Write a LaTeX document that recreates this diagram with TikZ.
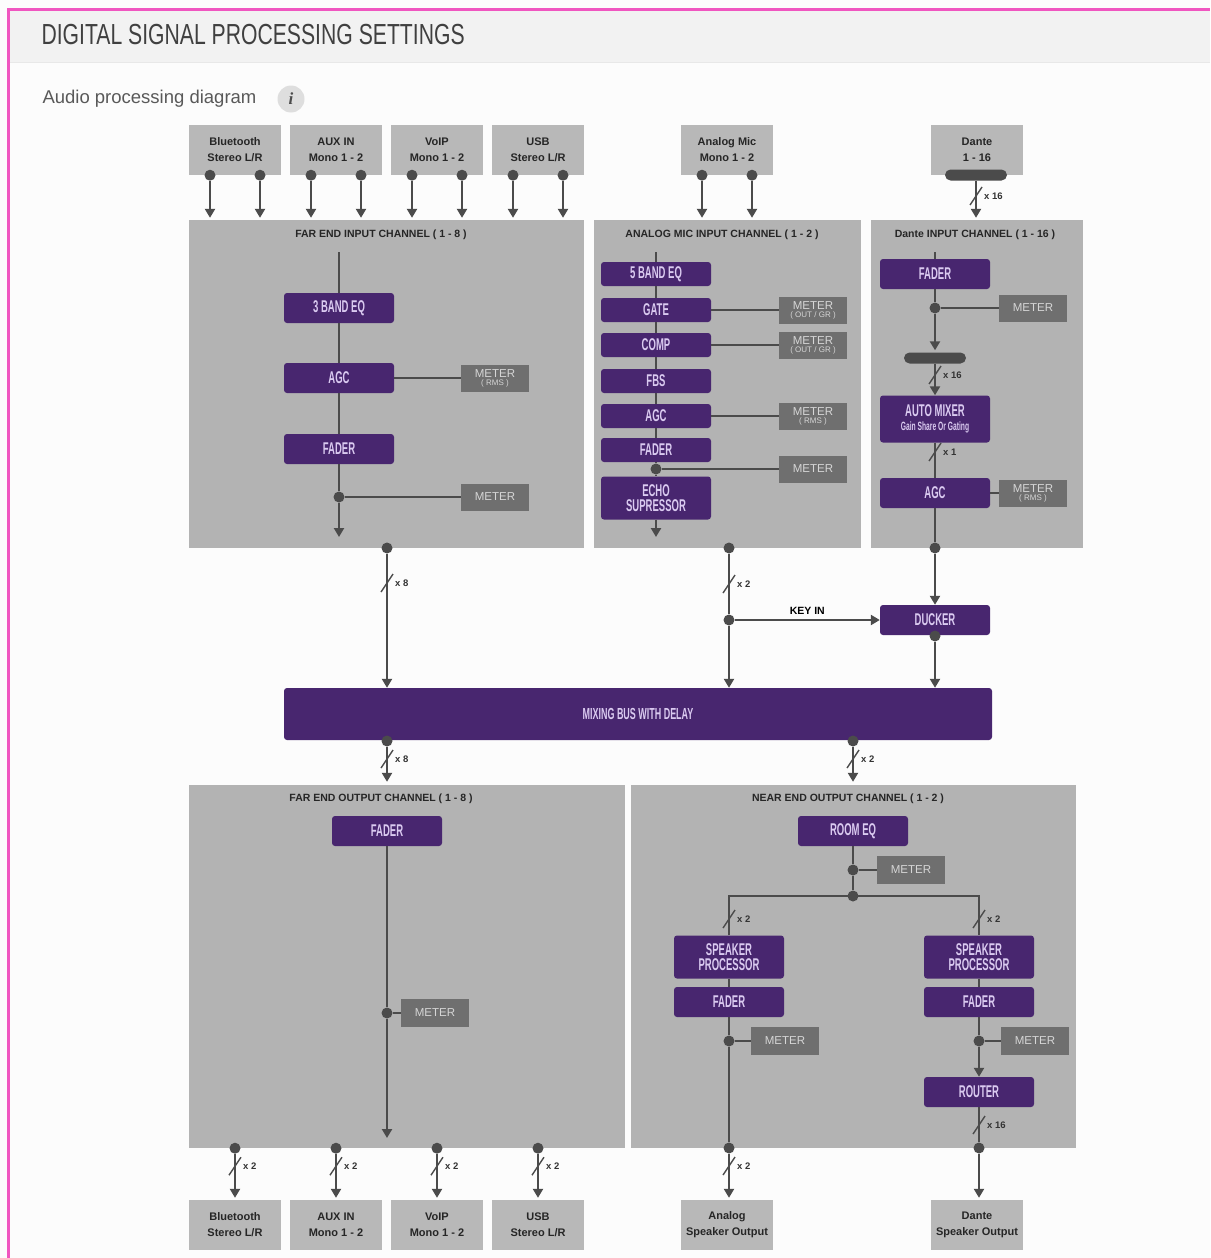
\documentclass[tikz,border=0pt]{standalone}
\usepackage{fontspec}
\setmainfont{Liberation Sans}
\newfontfamily\condsf[FakeStretch=0.56]{Liberation Sans}
\newfontfamily\thinsf[FakeStretch=0.73]{Liberation Sans}
\newfontfamily\infosf{Liberation Serif}
\usetikzlibrary{arrows.meta}
\definecolor{dsppurple}{HTML}{48266F}
\definecolor{dsptext}{HTML}{DACAF0}
\definecolor{panelgray}{HTML}{B3B3B3}
\definecolor{srcgray}{HTML}{B8B8B8}
\definecolor{metergray}{HTML}{6F6F6F}
\definecolor{metertext}{HTML}{D6D6D6}
\definecolor{wiregray}{HTML}{4B4B4B}
\definecolor{pagepink}{HTML}{F056C0}
\begin{document}
\begin{tikzpicture}[x=1pt, y=-1pt,
  >={Triangle[width=10pt,length=9pt]},
  wire/.style={draw=wiregray, line width=2.6pt},
  dot/.style={circle, fill=wiregray, inner sep=0pt, minimum size=11pt},
  src/.style={fill=srcgray, minimum width=92pt, minimum height=50pt, inner sep=0pt, align=center,
              font=\bfseries\fontsize{11}{16}\selectfont, text=black!85},
  chan/.style={fill=panelgray, inner sep=0pt},
  ttl/.style={font=\bfseries\fontsize{10.5}{12}\selectfont, text=black!85},
  proc/.style={fill=dsppurple, rounded corners=3pt, minimum width=110pt, minimum height=30pt, inner sep=0pt,
               align=center, text=dsptext, font=\condsf\bfseries\fontsize{17}{14.5}\selectfont},
  meter/.style={fill=metergray, minimum width=68pt, minimum height=27pt, inner sep=0pt, align=center,
                text=metertext, font=\fontsize{11.5}{10}\selectfont},
  bar/.style={fill=wiregray, rounded corners=5.5pt, minimum width=62pt, minimum height=11pt, inner sep=0pt},
  tick/.style={draw=wiregray, line width=1.4pt},
  busn/.style={font=\bfseries\fontsize{9.5}{11}\selectfont, text=black!80, anchor=west, inner sep=1pt},
  mux/.pic={\draw[tick] (-6,9) -- (6,-9); \node[busn] at (7,0) {\tikzpictext};},
]
  \useasboundingbox (0,0) rectangle (1210,1258);
  % page
  \fill[black!1] (0,0) rectangle (1210,1258);
  \fill[black!5] (9,11) rectangle (1210,62);
  \draw[black!9, line width=1pt] (9,62.5) -- (1210,62.5);
  \draw[pagepink, line width=3pt] (8.5,1258) -- (8.5,9.5) -- (1210,9.5);
  \node[anchor=west, text=black!75, font=\thinsf\fontsize{29}{30}\selectfont] (title) at (38,35) {DIGITAL SIGNAL PROCESSING SETTINGS};
  \node[anchor=west, text=black!65, font=\fontsize{18.5}{20}\selectfont] (sub) at (39,99) {Audio processing diagram};
  \node[circle, fill=black!13, minimum size=27pt, inner sep=0pt, text=black!70,
        font=\infosf\bfseries\itshape\fontsize{17}{17}\selectfont] (info) at (291,99) {i};

  % channel panels
  \node[chan, minimum width=395pt, minimum height=328pt] (fein) at (386.5,384) {};
  \node[chan, minimum width=267pt, minimum height=328pt] (amin) at (727.5,384) {};
  \node[chan, minimum width=212pt, minimum height=328pt] (dnin) at (977,384) {};
  \node[chan, minimum width=436pt, minimum height=363pt] (feout) at (407,966.5) {};
  \node[chan, minimum width=445pt, minimum height=363pt] (neout) at (853.5,966.5) {};
  \node[ttl] at (381,235) {FAR END INPUT CHANNEL ( 1 - 8 )};
  \node[ttl] at (722,235) {ANALOG MIC INPUT CHANNEL ( 1 - 2 )};
  \node[ttl] at (975,235) {Dante INPUT CHANNEL ( 1 - 16 )};
  \node[ttl] at (381,799) {FAR END OUTPUT CHANNEL ( 1 - 8 )};
  \node[ttl] at (848,799) {NEAR END OUTPUT CHANNEL ( 1 - 2 )};

  % inputs
  \node[src] (bt)    at (235,150) {Bluetooth\\Stereo L/R};
  \node[src] (aux)   at (336,150) {AUX IN\\Mono 1 - 2};
  \node[src] (voip)  at (437,150) {VoIP\\Mono 1 - 2};
  \node[src] (usb)   at (538,150) {USB\\Stereo L/R};
  \node[src] (mic)   at (727,150) {Analog Mic\\Mono 1 - 2};
  \node[src] (dante) at (977,150) {Dante\\1 - 16};
  \foreach \s in {bt,aux,voip,usb,mic}{
    \foreach \o/\k in {-25/l,25/r}{
      \node[dot] (\s\k) at ([xshift=\o pt]\s.south) {};
      \draw[wire,->,shorten >=2pt] (\s\k) -- (\s\k |- fein.north);
    }
  }
  \node[bar] (dbar) at (976,175) {};
  \draw[wire,->,shorten >=2pt] (dbar) -- (dbar |- dnin.north);
  \pic[pic text={x 16}] at (976,196) {mux};

  % far end input
  \coordinate (fetop) at (339,252);
  \node[proc] (eq3)   at (339,308) {3 BAND EQ};
  \node[proc] (feagc) at (339,378) {AGC};
  \node[proc] (fefad) at (339,449) {FADER};
  \node[dot]  (fedot) at (339,497) {};
  \coordinate (feend) at (339,537);
  \node[meter] (femet1) at (495,378) {METER\\[-2pt]\fontsize{8}{9}\selectfont ( RMS )};
  \node[meter] (femet2) at (495,497) {METER};
  \draw[wire] (fetop) -- (eq3) -- (feagc) -- (fefad) -- (fedot);
  \draw[wire,->] (fedot) -- (feend);
  \draw[wire] (feagc) -- (femet1);
  \draw[wire] (fedot) -- (femet2);

  % analog mic input
  \coordinate (amtop) at (656,252);
  \node[proc, minimum height=24pt] (eq5)   at (656,274) {5 BAND EQ};
  \node[proc, minimum height=24pt] (gate)  at (656,310) {GATE};
  \node[proc, minimum height=24pt] (comp)  at (656,345) {COMP};
  \node[proc, minimum height=24pt] (fbs)   at (656,381) {FBS};
  \node[proc, minimum height=24pt] (amagc) at (656,416) {AGC};
  \node[proc, minimum height=24pt] (amfad) at (656,450) {FADER};
  \node[dot] (amdot) at (656,469) {};
  \node[proc, minimum height=43pt] (echo) at (656,498) {ECHO\\SUPRESSOR};
  \coordinate (amend) at (656,537);
  \node[meter] (gmet) at (813,310) {METER\\[-2pt]\fontsize{8}{9}\selectfont ( OUT / GR )};
  \node[meter] (cmet) at (813,345) {METER\\[-2pt]\fontsize{8}{9}\selectfont ( OUT / GR )};
  \node[meter] (amet) at (813,416) {METER\\[-2pt]\fontsize{8}{9}\selectfont ( RMS )};
  \node[meter] (fmet) at (813,469) {METER};
  \draw[wire] (amtop) -- (eq5) -- (gate) -- (comp) -- (fbs) -- (amagc) -- (amfad) -- (amdot) -- (echo);
  \draw[wire,->] (echo) -- (amend);
  \draw[wire] (gate) -- (gmet);
  \draw[wire] (comp) -- (cmet);
  \draw[wire] (amagc) -- (amet);
  \draw[wire] (amdot) -- (fmet);

  % dante input
  \coordinate (dntop) at (935,252);
  \node[proc] (dnfad) at (935,274) {FADER};
  \node[dot]  (dndot) at (935,308) {};
  \node[meter] (dnmet1) at (1033,308) {METER};
  \node[bar]  (mbar)  at (935,358) {};
  \node[proc, minimum height=47pt] (amix) at (935,419) {AUTO MIXER\\{\fontsize{12}{15}\selectfont Gain Share Or Gating}};
  \node[proc] (dnagc) at (935,493) {AGC};
  \node[meter] (dnmet2) at (1033,493) {METER\\[-2pt]\fontsize{8}{9}\selectfont ( RMS )};
  \node[dot]  (dnout) at (935,548) {};
  \draw[wire] (dntop) -- (dnfad) -- (dndot);
  \draw[wire,->,shorten >=2pt] (dndot) -- (mbar);
  \draw[wire,->] (mbar) -- (amix);
  \draw[wire] (amix) -- (dnagc) -- (dnout);
  \draw[wire] (dndot) -- (dnmet1);
  \draw[wire] (dnagc) -- (dnmet2);
  \pic[pic text={x 16}] at (935,375) {mux};
  \pic[pic text={x 1}] at (935,452) {mux};

  % mixing bus
  \node[dot] (feo) at (387,548) {};
  \node[dot] (amo) at (729,548) {};
  \node[proc, minimum width=708pt, minimum height=52pt, font=\condsf\bfseries\fontsize{16}{16}\selectfont] (bus) at (638,714) {MIXING BUS WITH DELAY};
  \node[proc] (ducker) at (935,620) {DUCKER};
  \node[dot] (kdot) at (729,620) {};
  \node[dot] (dkdot) at (935,636) {};
  \draw[wire,->] (feo) -- (feo |- bus.north);
  \draw[wire] (amo) -- (kdot);
  \draw[wire,->] (kdot) -- (kdot |- bus.north);
  \draw[wire,->] (kdot) -- (ducker) node[midway, above=1pt, font=\bfseries\fontsize{10.5}{12}\selectfont] {KEY IN};
  \draw[wire,->] (dnout) -- (ducker);
  \draw[wire,->] (dkdot) -- (dkdot |- bus.north);
  \pic[pic text={x 8}] at (387,583) {mux};
  \pic[pic text={x 2}] at (729,584) {mux};
  \node[dot] (busl) at (387,741) {};
  \node[dot] (busr) at (853,741) {};
  \draw[wire,->,shorten >=3pt] (busl) -- (busl |- feout.north);
  \draw[wire,->,shorten >=3pt] (busr) -- (busr |- neout.north);
  \pic[pic text={x 8}] at (387,759) {mux};
  \pic[pic text={x 2}] at (853,759) {mux};

  % far end output
  \node[proc] (fofad) at (387,831) {FADER};
  \node[dot]  (fodot) at (387,1013) {};
  \node[meter, minimum height=28pt] (fomet) at (435,1013) {METER};
  \coordinate (foend) at (387,1138);
  \draw[wire] (fofad) -- (fodot);
  \draw[wire,->] (fodot) -- (foend);
  \draw[wire] (fodot) -- (fomet);
  \node[src] (btout)   at (235,1225) {Bluetooth\\Stereo L/R};
  \node[src] (auxout)  at (336,1225) {AUX IN\\Mono 1 - 2};
  \node[src] (voipout) at (437,1225) {VoIP\\Mono 1 - 2};
  \node[src] (usbout)  at (538,1225) {USB\\Stereo L/R};
  \foreach \s in {btout,auxout,voipout,usbout}{
    \node[dot] (d\s) at (\s.north |- feout.south) {};
    \draw[wire,->,shorten >=2pt] (d\s) -- (\s);
    \pic[pic text={x 2}] at ([yshift=-18pt]d\s) {mux};
  }

  % near end output
  \node[proc] (roomeq) at (853,831) {ROOM EQ};
  \node[dot]  (redot)  at (853,870) {};
  \node[meter, minimum height=28pt] (remet) at (911,870) {METER};
  \node[dot]  (split)  at (853,896) {};
  \coordinate (splitl) at (729,896);
  \coordinate (splitr) at (979,896);
  \node[proc, minimum height=43pt] (spkl) at (729,957) {SPEAKER\\PROCESSOR};
  \node[proc] (fadl) at (729,1002) {FADER};
  \node[dot]  (ldot) at (729,1041) {};
  \node[meter, minimum height=28pt] (lmet) at (785,1041) {METER};
  \node[proc, minimum height=43pt] (spkr) at (979,957) {SPEAKER\\PROCESSOR};
  \node[proc] (fadr) at (979,1002) {FADER};
  \node[dot]  (rdot) at (979,1041) {};
  \node[meter, minimum height=28pt] (rmet) at (1035,1041) {METER};
  \node[proc] (router) at (979,1092) {ROUTER};
  \node[dot]  (anod) at (729,1148) {};
  \node[dot]  (dnod) at (979,1148) {};
  \node[src] (anaout) at (727,1225) {Analog\\Speaker Output};
  \node[src] (danout) at (977,1225) {Dante\\Speaker Output};
  \draw[wire] (roomeq) -- (redot) -- (split);
  \draw[wire] (redot) -- (remet);
  \draw[wire] (spkl) -- (splitl) -- (splitr) -- (spkr);
  \draw[wire] (spkl) -- (fadl) -- (ldot) -- (anod);
  \draw[wire] (ldot) -- (lmet);
  \draw[wire,->,shorten >=2pt] (anod) -- (anod |- anaout.north);
  \draw[wire] (spkr) -- (fadr) -- (rdot);
  \draw[wire,->] (rdot) -- (router);
  \draw[wire] (rdot) -- (rmet);
  \draw[wire] (router) -- (dnod);
  \draw[wire,->,shorten >=2pt] (dnod) -- (dnod |- danout.north);
  \pic[pic text={x 2}] at (729,919) {mux};
  \pic[pic text={x 2}] at (979,919) {mux};
  \pic[pic text={x 16}] at (979,1125) {mux};
  \pic[pic text={x 2}] at (729,1166) {mux};
\end{tikzpicture}
\end{document}
